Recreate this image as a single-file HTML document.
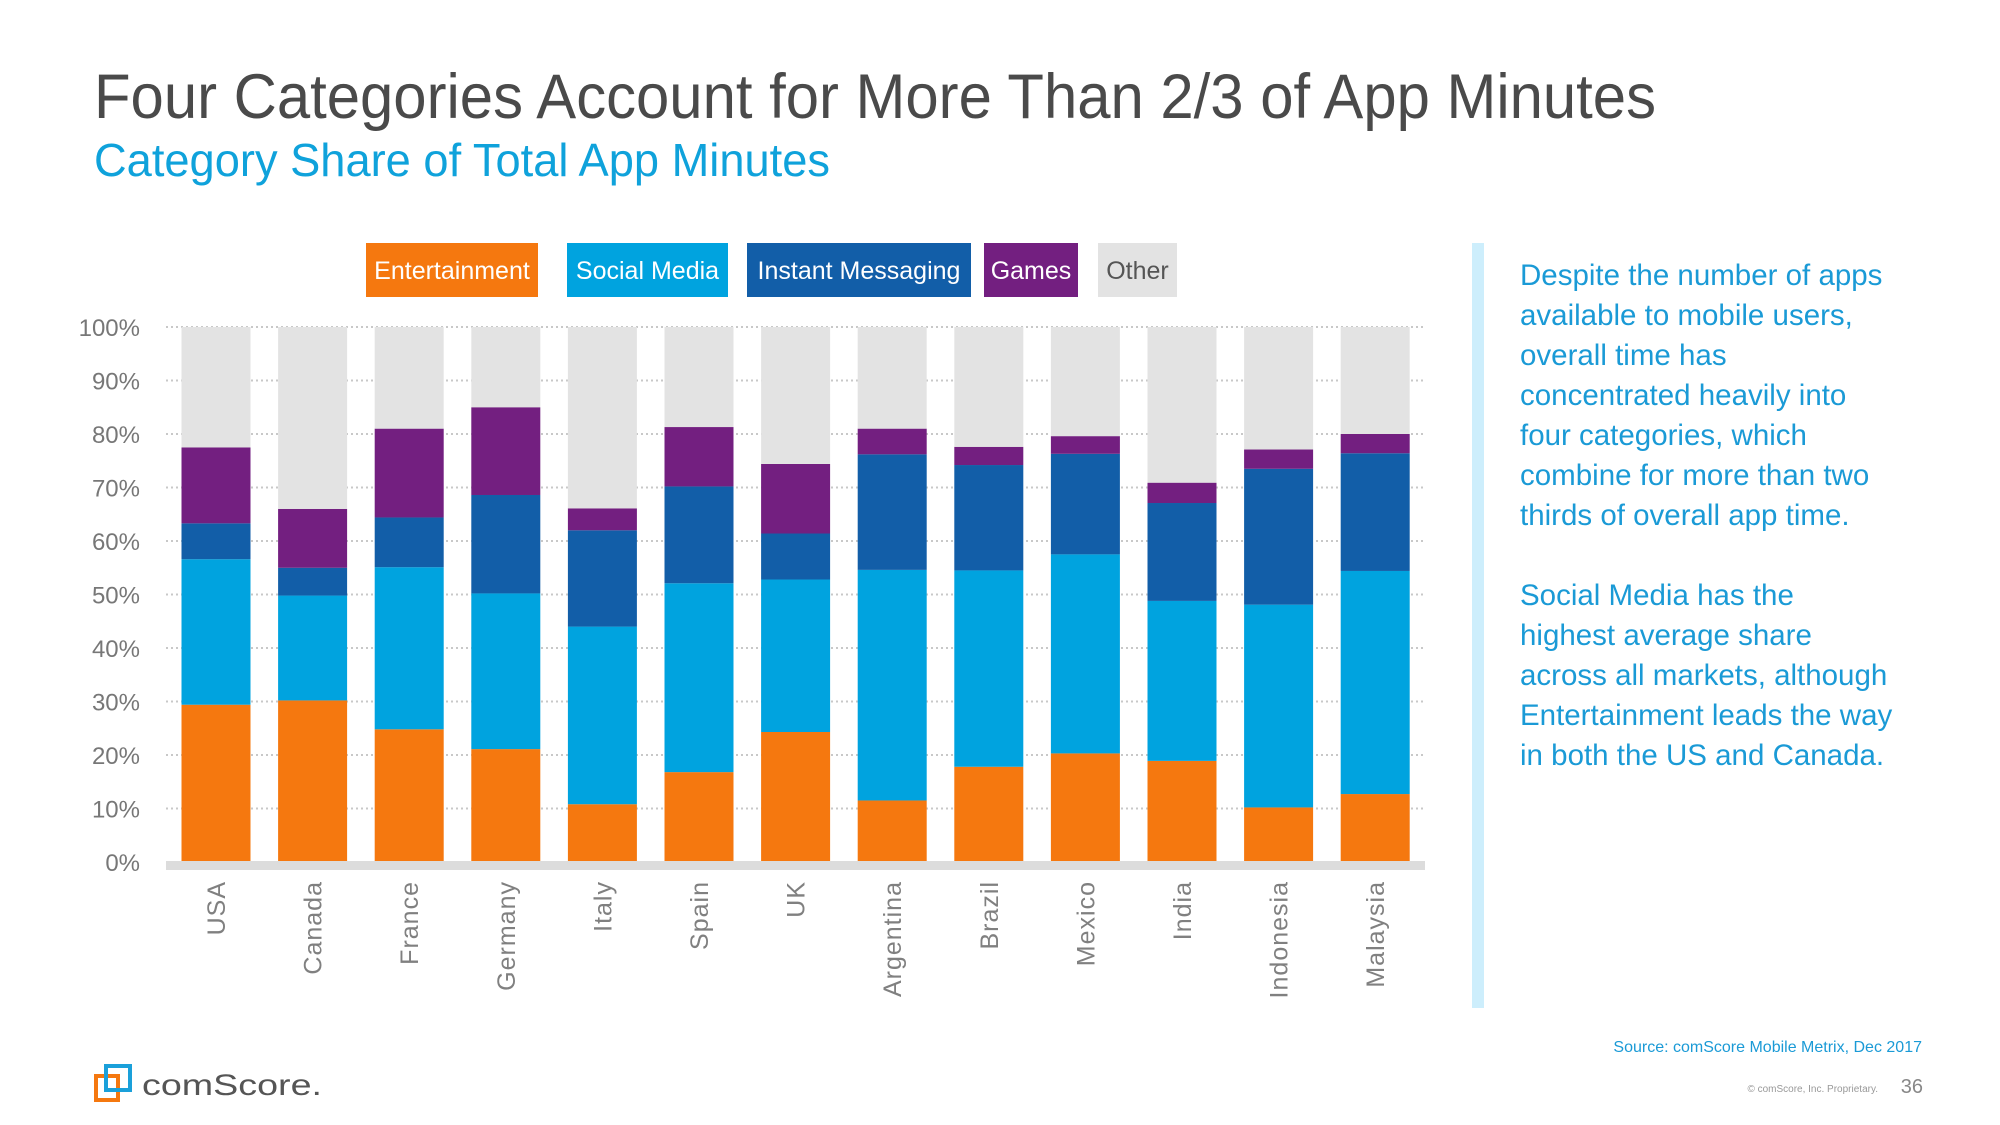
<!DOCTYPE html>
<html><head><meta charset="utf-8"><style>
html,body{margin:0;padding:0;background:#fff;}
svg{display:block;font-family:"Liberation Sans",sans-serif;}
</style></head><body>
<svg id="root" width="2000" height="1125" viewBox="0 0 2000 1125" xmlns="http://www.w3.org/2000/svg">
<text x="94" y="118" font-size="63" fill="#4a4a4a" textLength="1562" lengthAdjust="spacingAndGlyphs">Four Categories Account for More Than 2/3 of App Minutes</text>
<text x="94" y="176" font-size="46" fill="#0fa2db" textLength="736" lengthAdjust="spacingAndGlyphs">Category Share of Total App Minutes</text>
<g id="legend"></g>
<g id="grid"></g>
<g id="yaxis"></g>
<g id="bars"></g>
<g id="xaxis"></g>
<rect x="1472" y="243" width="12" height="765" fill="#cdeefc"/>
<g font-size="29.5" fill="#1a9ad6">
<text x="1520" y="285">Despite the number of apps</text>
<text x="1520" y="325">available to mobile users,</text>
<text x="1520" y="365">overall time has</text>
<text x="1520" y="405">concentrated heavily into</text>
<text x="1520" y="445">four categories, which</text>
<text x="1520" y="485">combine for more than two</text>
<text x="1520" y="525">thirds of overall app time.</text>
<text x="1520" y="605">Social Media has the</text>
<text x="1520" y="645">highest average share</text>
<text x="1520" y="685">across all markets, although</text>
<text x="1520" y="725">Entertainment leads the way</text>
<text x="1520" y="765">in both the US and Canada.</text>
</g>
<text x="1922" y="1052" font-size="16" fill="#1a9ad6" text-anchor="end">Source: comScore Mobile Metrix, Dec 2017</text>
<text x="1878" y="1092" font-size="10" fill="#999" text-anchor="end">© comScore, Inc. Proprietary.</text>
<text x="1923" y="1093" font-size="20" fill="#888" text-anchor="end">36</text>
<g>
<rect x="96" y="1076" width="22" height="24" fill="none" stroke="#f5780f" stroke-width="4"/>
<rect x="106" y="1066" width="24" height="24" fill="none" stroke="#1aa0da" stroke-width="4"/>
<text x="142" y="1095" font-size="30" fill="#555" textLength="180" lengthAdjust="spacingAndGlyphs">comScore.</text>
</g>
</svg>
<script>
const categories=["USA","Canada","France","Germany","Italy","Spain","UK","Argentina","Brazil","Mexico","India","Indonesia","Malaysia"];
const entertainment=[29.4,30.2,24.8,21.1,10.8,16.8,24.3,11.5,17.8,20.3,18.9,10.2,12.7];
const socialMedia=[27.2,19.6,30.3,29.1,33.2,35.3,28.5,43.1,36.7,37.2,29.9,37.9,41.7];
const instantMessaging=[6.7,5.2,9.3,18.4,18.0,18.1,8.6,21.6,19.7,18.8,18.3,25.4,22.0];
const games=[14.2,11.0,16.6,16.4,4.1,11.1,13.0,4.8,3.4,3.3,3.8,3.6,3.6];
const yTicks=[0,10,20,30,40,50,60,70,80,90,100];
const seriesNames=["Entertainment","Social Media","Instant Messaging","Games","Other"];
const NS="http://www.w3.org/2000/svg";
const y0=862,y100=327,x0=181.5,step=96.6,bw=69;
function yScale(v){return y0-(y0-y100)*v/100;}
function xScale(i){return x0+i*step;}
function mk(tag,attrs,parent){const e=document.createElementNS(NS,tag);for(const k in attrs)e.setAttribute(k,attrs[k]);parent.appendChild(e);return e;}
const colors=["#f5780f","#00a3df","#125ea8","#731f80","#e3e3e3"];
const grid=document.getElementById('grid'),yax=document.getElementById('yaxis');
yTicks.forEach(t=>{
  const l=mk('line',{x1:166,x2:1425,y1:yScale(t),y2:yScale(t),stroke:'#c8c8c8','stroke-width':2,'stroke-dasharray':'2 3'},grid);
  
  
  const tx=mk('text',{x:140,y:yScale(t)+9,'font-size':24,fill:'#777','text-anchor':'end'},yax);
  tx.textContent=t+'%';
  
  
});
const bars=document.getElementById('bars'),xax=document.getElementById('xaxis');
categories.forEach((c,i)=>{
  const vals=[entertainment[i],socialMedia[i],instantMessaging[i],games[i]];
  let cum=0;
  const x=xScale(i);
  vals.forEach((v,s)=>{
    const r=mk('rect',{x:x,y:yScale(cum+v),width:bw,height:yScale(cum)-yScale(cum+v),fill:colors[s]},bars);
    
    
    cum+=v;
  });
  const o=mk('rect',{x:x,y:yScale(100),width:bw,height:yScale(cum)-yScale(100),fill:colors[4]},bars);
  
  
  const t=mk('text',{transform:'translate('+(x+bw/2+9)+',881) rotate(-90)','font-size':25,fill:'#808080','text-anchor':'end','letter-spacing':'1'},xax);
  t.textContent=c;
  
  
});
const base=mk('rect',{x:166,y:861,width:1259,height:9,fill:'#dcdcdc'},xax);


const leg=document.getElementById('legend');
const lx=[366,567,747,984,1098],lw=[172,161,224,94,79];
seriesNames.forEach((n,i)=>{
  const r=mk('rect',{x:lx[i],y:243,width:lw[i],height:54,fill:colors[i]},leg);
  
  
  const t=mk('text',{x:lx[i]+lw[i]/2,y:279,'font-size':25,fill:i==4?'#555':'#fff','text-anchor':'middle'},leg);
  t.textContent=n;
  
  
});
</script>
</body></html>
